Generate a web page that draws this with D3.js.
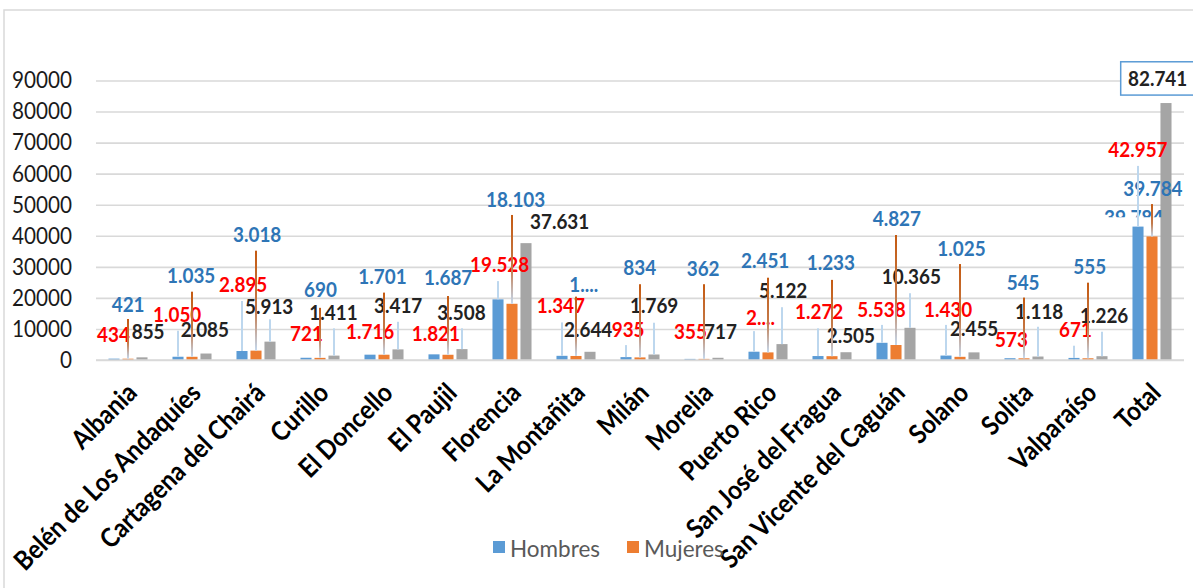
<!DOCTYPE html>
<html><head><meta charset="utf-8">
<script src="https://cdn.jsdelivr.net/npm/d3@7"></script>
<style>body{margin:0;background:#fff;overflow:hidden} svg{display:block}</style>
</head><body><svg id="c" width="1193" height="588"></svg>
<script>
// ---------- data ----------
const categories = ["Albania","Belén de Los Andaquíes","Cartagena del Chairá","Curillo","El Doncello","El Paujil","Florencia","La Montañita","Milán","Morelia","Puerto Rico","San José del Fragua","San Vicente del Caguán","Solano","Solita","Valparaíso","Total"];
const hombres = [434,1050,2895,721,1716,1821,19528,1347,935,355,2671,1272,5538,1430,573,671,42957];
const mujeres = [421,1035,3018,690,1701,1687,18103,1297,834,362,2451,1233,4827,1025,545,555,39784];
const totales = [855,2085,5913,1411,3417,3508,37631,2644,1769,717,5122,2505,10365,2455,1118,1226,82741];
const yTicks = [0,10000,20000,30000,40000,50000,60000,70000,80000,90000];
const seriesNames = ["Hombres","Mujeres"];
const truncHom = [10];   // labels shown truncated in the original
const truncMuj = [7];

// ---------- label layout (dx in px from category centre, level in data units) ----------
const layMuj = [[-16.3,15550],[-25,24800],[-23,38100],[-16,20200],[-25.7,24500],[-24,24150],[-26,49400],[-6.7,22000],[-16.7,27400],[-17.3,27100],[-27,29500],[-25.3,29000],[-23.3,43100],[-22.7,33500],[-17.3,22500],[-14.7,27700],[-28.7,52800]];
const layHom = [[-31,5800],[-39,12330],[-37,21800],[-30,6200],[-38,6700],[-36.3,6200],[-42,28200],[-39.3,15000],[-28.3,7500],[-30,6700],[-22,11300],[-37,13100],[-38.7,13900],[-36,13900],[-29,4300],[-29,7300],[-43.7,65500]];
const layTot = [[3.7,6670],[-11.3,7310],[-11,14800],[-10.7,12900],[-10,15000],[-10.7,12900],[18,42100],[-12,7500],[-10,15000],[0,6700],[-9,19900],[-5.3,5600],[-14.3,24500],[-10,7700],[-9,13100],[-8,11800],[-24,88300]];
const leadHom = [null,9430,19000,null,null,null,25400,12100,4800,null,9300,10200,11300,11300,null,4600,62500];
const leadMuj = [13200,22000,35200,16800,21700,20600,46700,20400,24400,24400,26500,25800,40250,30900,20100,24900,50200];
const leadTot = [null,null,13100,10200,12300,10200,null,null,12000,null,17000,null,21500,null,10700,9100,null];

// ---------- setup ----------
const svg = d3.select("#c");
const colors = ["#5b9bd5","#ed7d31","#a5a5a5"];
const labelColors = {hom:"#ff0000", muj:"#2e75b6", tot:"#222222"};
const FONT = "Lato, 'Open Sans', sans-serif";
const SX = 0.9; // horizontal condensing to mimic the narrow original face
const loc = d3.formatLocale({decimal:",", thousands:".", grouping:[3], currency:["",""]});
const fmt = loc.format(",d");

const left = 96, right = 1184, y0 = 360, yTop = 80.5;
const x0 = d3.scaleBand().domain(categories).range([left, right]).paddingInner(0.39).paddingOuter(0.195);
const x1 = d3.scaleBand().domain([0,1,2]).range([0, x0.bandwidth()]).paddingInner(0.21);
const y = d3.scaleLinear().domain([0, 90000]).range([y0, yTop]);
const cx = c => x0(c) + x0.bandwidth()/2;
const barC = (c,k) => x0(c) + x1(k) + x1.bandwidth()/2;

// frame
svg.append("rect").attr("x",4).attr("y",10).attr("width",1250).attr("height",650)
  .attr("fill","none").attr("stroke","#d9d9d9").attr("stroke-width",1.5);

// defs
const defs = svg.append("defs");
const g1 = defs.append("linearGradient").attr("id","brownGrad").attr("x1",0).attr("y1",0).attr("x2",0).attr("y2",1);
g1.append("stop").attr("offset","0").attr("stop-color","#c55a11");
g1.append("stop").attr("offset","0.6").attr("stop-color","#c47a4a");
g1.append("stop").attr("offset","1").attr("stop-color","#c4d9ef");
defs.append("clipPath").attr("id","sliver").append("rect")
  .attr("x",0).attr("y",0).attr("width",1193).attr("height",y(46000));

// gridlines + y axis
const yAxis = d3.axisLeft(y).tickValues(yTicks).tickSize(-(right-left)).tickFormat(d3.format("d")).tickPadding(24);
const ga = svg.append("g").attr("transform",`translate(${left},0)`).call(yAxis);
ga.select(".domain").remove();
ga.selectAll(".tick line").attr("stroke","#d9d9d9").attr("stroke-width",1.6);
ga.selectAll(".tick text").attr("font-family",FONT).attr("font-size",23).attr("fill","#1a1a1a")
  .attr("x", -24/SX).attr("transform",`scale(${SX},1)`);

// bars
const series = [hombres, mujeres, totales];
series.forEach((arr,k) => {
  svg.append("g").selectAll("rect").data(categories).join("rect")
    .attr("x", c => x0(c) + x1(k))
    .attr("width", x1.bandwidth())
    .attr("y", (c,i) => y(arr[i]))
    .attr("height", (c,i) => y0 - y(arr[i]))
    .attr("fill", colors[k]);
});

// hidden, clipped duplicate label (as in original)
svg.append("g").attr("clip-path","url(#sliver)").append("text")
  .attr("transform",`translate(${cx("Total") - 48},${y(43500)}) scale(${SX},1)`)
  .attr("font-family",FONT).attr("font-weight","bold").attr("font-size",21)
  .attr("fill",labelColors.muj).text(fmt(mujeres[16]));

// data labels
function labelText(arr, i, trunc){
  const s = fmt(arr[i]);
  return trunc.includes(i) ? s[0] + "...." : s;
}
const lg = svg.append("g").attr("font-family",FONT).attr("font-weight","bold").attr("font-size",21);
function putLabel(x, yy, color, txt){
  lg.append("text").attr("transform",`translate(${x},${yy}) scale(${SX},1)`)
    .attr("fill", color).text(txt);
}
categories.forEach((c,i) => {
  putLabel(cx(c)+layMuj[i][0], y(layMuj[i][1]), labelColors.muj, labelText(mujeres,i,truncMuj));
  putLabel(cx(c)+layHom[i][0], y(layHom[i][1]), labelColors.hom, labelText(hombres,i,truncHom));
  if (c === "Total") {
    const bx = cx(c)+layTot[i][0]-7.3, by = y(layTot[i][1]);
    lg.append("rect").attr("x",bx).attr("y",by-24).attr("width",90).attr("height",33.3)
      .attr("fill","#fff").attr("stroke","#5b9bd5").attr("stroke-width",1.5);
  }
  putLabel(cx(c)+layTot[i][0], y(layTot[i][1]), labelColors.tot, fmt(totales[i]));
});

// leader lines
const ll = svg.append("g");
const leaders = [[leadHom, hombres, 0, "#bdd7ee"], [leadMuj, mujeres, 1, "url(#brownGrad)"], [leadTot, totales, 2, "#bdd7ee"]];
leaders.forEach(([lead, arr, k, fill]) => {
  categories.forEach((c,i) => {
    if (lead[i] == null) return;
    const top = y(lead[i]), bot = y(arr[i]);
    ll.append("rect").attr("x", barC(c,k)-1).attr("width",2)
      .attr("y", top).attr("height", bot-top).attr("fill", fill);
  });
});

// x axis line
svg.append("line").attr("x1",left).attr("x2",right).attr("y1",y0).attr("y2",y0)
  .attr("stroke","#d9d9d9").attr("stroke-width",1.6);

// x labels
svg.append("g").selectAll("text").data(categories).join("text")
  .attr("transform", c => `translate(${cx(c)-3},${y0+21}) rotate(-45) scale(${SX},1)`)
  .attr("text-anchor","end").attr("dy","0.72em")
  .attr("font-family",FONT).attr("font-weight","bold").attr("font-size",26.5).attr("fill","#000")
  .text(c => c);

// legend
const legX = [493, 627];
const leg = svg.append("g").attr("font-family",FONT).attr("font-size",22.5).attr("fill","#595959");
seriesNames.forEach((n,k) => {
  leg.append("rect").attr("x",legX[k]).attr("y",541).attr("width",12).attr("height",12).attr("fill",colors[k]);
  leg.append("text").attr("x",legX[k]+17).attr("y",557).text(n);
});
</script></body></html>
